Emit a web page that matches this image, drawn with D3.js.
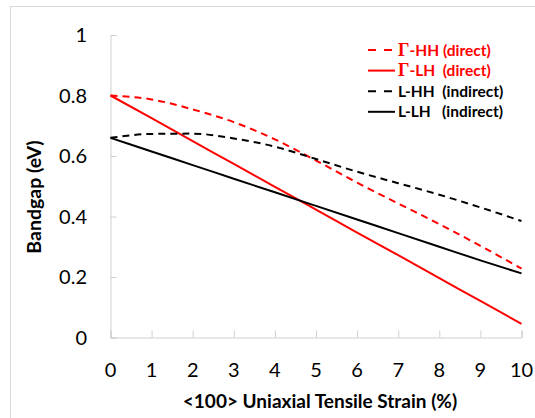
<!DOCTYPE html>
<html>
<head>
<meta charset="utf-8">
<script src="https://cdn.jsdelivr.net/npm/d3@7"></script>
<style>
  body { margin: 0; background: #fff; }
  text { white-space: pre; }
</style>
</head>
<body>
<script>
// strain values (%)
const strain = [0, 1, 2, 3, 4, 5, 6, 7, 8, 9, 10];

// bandgaps (eV)
const gammaHH = [0.80, 0.787, 0.754, 0.712, 0.655, 0.585, 0.512, 0.443, 0.375, 0.303, 0.228];
const gammaLH = [0.80, 0.725, 0.649, 0.574, 0.498, 0.423, 0.347, 0.272, 0.196, 0.121, 0.045];
const lHH = [0.66, 0.673, 0.674, 0.658, 0.631, 0.590, 0.548, 0.510, 0.472, 0.430, 0.385];
const lLH = [0.66, 0.615, 0.570, 0.525, 0.480, 0.435, 0.390, 0.345, 0.300, 0.255, 0.212];

const xTicks = [0, 1, 2, 3, 4, 5, 6, 7, 8, 9, 10];
const yTicks = [0, 0.2, 0.4, 0.6, 0.8, 1];

const series = [
  { name: "Γ", rest: "-HH (direct)", values: gammaHH, color: "#ff0000", dash: "7,5" },
  { name: "Γ", rest: "-LH  (direct)", values: gammaLH, color: "#ff0000", dash: null },
  { name: "", rest: "L-HH  (indirect)", values: lHH, color: "#000000", dash: "7,5" },
  { name: "", rest: "L-LH   (indirect)", values: lLH, color: "#000000", dash: null }
];

const width = 535;
const height = 418;
const marginLeft = 110.5;
const marginRight = 13.5;
const marginTop = 35;
const marginBottom = 80.5;

const x = d3.scaleLinear()
    .domain([0, 10])
    .range([marginLeft, width - marginRight]);

const y = d3.scaleLinear()
    .domain([0, 1])
    .range([height - marginBottom, marginTop]);

const svg = d3.select("body")
  .append("svg")
    .attr("width", width)
    .attr("height", height)
    .attr("viewBox", [0, 0, width, height]);

// chart frame
svg.append("rect")
    .attr("x", 10.5)
    .attr("y", 6.5)
    .attr("width", width + 20)
    .attr("height", height + 20)
    .attr("fill", "none")
    .attr("stroke", "#d9d9d9");

// x axis, ticks pointing up
svg.append("g")
    .attr("transform", `translate(0,${y(0)})`)
    .call(d3.axisTop(x).tickValues(xTicks).tickSize(7).tickFormat(""))
    .call(g => g.selectAll("path, line").attr("stroke", "#d0d0d0"));

svg.append("g")
    .attr("font-family", "Lato, sans-serif")
    .attr("font-size", 20)
    .attr("fill", "#000")
    .attr("text-anchor", "middle")
  .selectAll("text")
  .data(xTicks)
  .join("text")
    .attr("x", d => x(d))
    .attr("y", 377)
    .text(d => d);

// y axis, ticks pointing right
svg.append("g")
    .attr("transform", `translate(${x(0)},0)`)
    .call(d3.axisRight(y).tickValues(yTicks).tickSize(6).tickFormat(""))
    .call(g => g.selectAll("path, line").attr("stroke", "#d0d0d0"));

svg.append("g")
    .attr("font-family", "Lato, sans-serif")
    .attr("font-size", 20)
    .attr("fill", "#000")
    .attr("text-anchor", "end")
  .selectAll("text")
  .data(yTicks)
  .join("text")
    .attr("x", 87)
    .attr("y", d => y(d))
    .attr("dy", "0.36em")
    .text(d => d3.format("")(d));

// series lines
const line = d3.line()
    .x((d, i) => x(strain[i]))
    .y(d => y(d))
    .curve(d3.curveMonotoneX);

svg.append("g")
    .attr("fill", "none")
  .selectAll("path")
  .data(series)
  .join("path")
    .attr("stroke", d => d.color)
    .attr("stroke-width", 2)
    .attr("stroke-dasharray", d => d.dash)
    .attr("d", d => line(d.values));

// legend
const legend = svg.append("g")
  .selectAll("g")
  .data(series)
  .join("g")
    .attr("transform", (d, i) => `translate(368,${50 + i * 20.6})`);

legend.append("line")
    .attr("x1", 0)
    .attr("x2", 27)
    .attr("stroke", d => d.color)
    .attr("stroke-width", 2)
    .attr("stroke-dasharray", d => d.dash ? "8,8" : null);

const lt = legend.append("text")
    .attr("x", 30)
    .attr("dy", "0.36em")
    .attr("font-family", "Lato, sans-serif")
    .attr("font-weight", "bold")
    .attr("font-size", 15.5)
    .attr("fill", d => d.color);

lt.append("tspan")
    .attr("font-family", "Liberation Serif, serif")
    .attr("font-size", 18)
    .text(d => d.name);
lt.append("tspan")
    .text(d => d.rest);

// axis titles
svg.append("text")
    .attr("x", 320)
    .attr("y", 408)
    .attr("text-anchor", "middle")
    .attr("font-family", "Lato, sans-serif")
    .attr("font-weight", "bold")
    .attr("font-size", 19)
    .text("<100> Uniaxial Tensile Strain (%)");

svg.append("text")
    .attr("transform", "translate(41,197) rotate(-90)")
    .attr("text-anchor", "middle")
    .attr("font-family", "Lato, sans-serif")
    .attr("font-weight", "bold")
    .attr("font-size", 19.5)
    .text("Bandgap (eV)");
</script>
</body>
</html>
